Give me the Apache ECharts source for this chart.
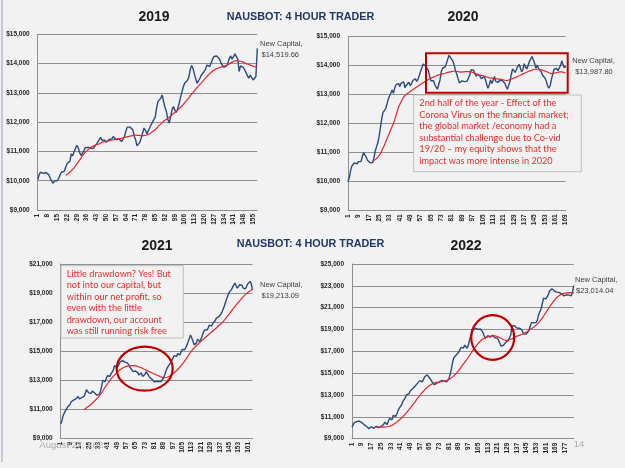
<!DOCTYPE html>
<html><head><meta charset="utf-8">
<script src="https://cdn.jsdelivr.net/npm/echarts@6/dist/echarts.min.js"></script>
<style>html,body{margin:0;padding:0;background:#f2f2f2}#c{width:625px;height:468px}</style>
</head><body><div id="c"></div><script>
// ---- 2019 ----
const blue2019 = [10040,10200,10290,10260,10250,10240,10280,10300,10200,10080,
9990,9910,9990,9940,10000,10080,10200,10290,10240,10320,
10460,10580,10520,10660,10920,10850,10980,11100,11210,11120,
10960,10860,10920,11020,11130,11170,11140,11190,11110,11170,
11110,11180,11250,11290,11400,11480,11380,11340,11380,11310,
11360,11410,11360,11430,11510,11570,11400,11350,11440,11380,
11340,11400,11510,11680,11830,11800,11830,11850,11740,11530,
11400,11190,11150,11310,11460,11630,11800,11720,11600,11650,
11800,11910,11990,11970,12170,12480,12710,12760,12820,12930,
12710,12510,12360,12100,11970,12170,12420,12530,12420,12330,
12440,12620,12820,13010,13190,13330,13390,13420,13530,13780,
13940,13840,13650,13470,13330,13360,13500,13610,13670,13730,
13810,13950,13990,13900,14030,14150,14240,14300,14260,14220,
14150,14030,13950,13870,13840,13920,14030,14180,14260,14150,
14240,14330,14350,14150,13730,13920,13970,13870,13780,13690,
13580,13500,13610,13560,13440,13470,13560,14519.66];
const red2019 = [null,null,null,null,null,null,null,null,null,null,
null,null,null,null,null,null,null,null,null,null,
10190,10220,10250,10290,10340,10380,10440,10510,10570,10640,
10700,10770,10860,10920,10970,11010,11060,11110,11140,11160,
11190,11210,11230,11250,11260,11290,11310,11320,11340,11350,
11350,11360,11380,11390,11400,11420,11420,11430,11440,11450,
11450,11460,11480,11490,11500,11510,11520,11530,11540,11550,
11560,11560,11550,11550,11540,11530,11540,11550,11560,11580,
11600,11640,11670,11700,11740,11790,11840,11890,11940,11990,
12030,12070,12100,12130,12170,12210,12250,12290,12330,12370,
12410,12460,12500,12550,12600,12650,12720,12780,12830,12900,
12960,13010,13070,13130,13190,13240,13290,13340,13400,13450,
13510,13560,13610,13660,13700,13740,13780,13810,13830,13850,
13870,13880,13890,13910,13920,13940,13960,13990,14020,14050,
14070,14090,14100,14100,14090,14080,14060,14050,14030,14000,
13990,13970,13950,13930,13910,13890,13870,13900];

// ---- 2020 ----
const blue2020 = [9980,10130,10380,10530,10510,10640,10580,10600,10680,10710,
10680,10850,10990,10930,10840,10730,10670,10640,10620,10650,
10800,11040,11190,11330,11550,11850,12150,12380,12420,12500,
12650,12830,12940,13040,13150,13040,13210,13330,13270,13380,
13270,13390,13330,13430,13230,13320,13270,13420,13300,13370,
13480,13420,13540,13450,13520,13650,13790,13920,14050,14020,
13970,13940,13830,13630,13470,13420,13470,13340,13250,13180,
13150,13500,13790,13900,13850,13960,14080,14220,14350,14320,
14210,14140,14000,13820,13690,13540,13400,13450,13470,13450,
13440,13450,13460,13480,13680,13850,13890,13840,13700,13630,
13700,13760,13620,13540,13530,13620,13520,13360,13210,13330,
13500,13380,13480,13620,13450,13510,13420,13490,13550,13480,
13490,13390,13270,13180,13240,13450,13680,13880,13910,13760,
13760,13970,14040,13920,13780,13860,14060,13950,13880,14010,
14140,14200,14310,14260,14080,13900,14020,13900,13950,13790,
13670,13620,13570,13460,13300,13220,13300,13520,13700,13870,
13880,13900,13820,13860,14000,14160,14020,13920,13987.80];
const red2020 = [null,null,null,null,null,null,null,null,null,null,
null,null,null,null,null,null,null,null,null,10680,
10720,10750,10790,10830,10870,10950,11050,11150,11240,11350,
11460,11570,11680,11780,11890,11990,12120,12270,12420,12560,
12660,12750,12840,12920,12970,13010,13050,13070,13110,13140,
13170,13200,13230,13260,13290,13320,13350,13380,13410,13440,
13460,13490,13510,13540,13560,13580,13600,13620,13640,13660,
13670,13690,13700,13710,13720,13730,13740,13760,13770,13780,
13790,13800,13800,13800,13790,13790,13780,13770,13770,13780,
13780,13790,13790,13790,13790,13780,13770,13750,13730,13710,
13700,13680,13670,13660,13640,13630,13620,13600,13590,13570,
13560,13560,13550,13550,13540,13540,13530,13530,13520,13510,
13500,13490,13480,13480,13490,13510,13530,13550,13560,13580,
13600,13620,13640,13660,13680,13710,13730,13750,13770,13790,
13800,13820,13840,13860,13870,13870,13870,13870,13870,13860,
13840,13820,13810,13790,13770,13750,13730,13720,13720,13730,
13740,13750,13760,13780,13790,13780,13760,13750,13740];

// ---- 2021 ----
const blue2021 = [9960,10180,10530,10660,10870,10960,11150,11230,11310,11500,
11590,11610,11520,11700,11800,11860,11690,11720,11790,11720,
11870,12080,12330,12250,12110,11980,12080,12230,12300,12110,
12030,11950,11870,12020,12230,12560,12980,12920,12880,13120,
13290,13330,13250,13420,13530,13680,14000,13890,13840,13940,
14100,14270,14400,14340,14290,14230,14280,14180,14070,13940,
13790,13720,13580,13500,13620,13700,13490,13340,13260,13480,
13250,13140,13380,13570,13450,13330,13190,13120,13060,12950,
12880,12880,12900,12870,12900,12950,12900,13030,13150,13360,
13620,13820,13960,14080,14200,14320,14510,14680,14720,14630,
14820,14820,14730,14940,15110,15160,15090,15250,15420,15540,
15870,16100,16110,15700,15420,15310,15550,15820,15790,15650,
15820,16050,16270,16460,16400,16440,16580,16780,16750,16710,
16900,16990,17080,17260,17340,17350,17270,17540,17700,17820,
18120,18380,18630,18830,19040,19150,19230,19400,19550,19690,
19500,19330,19260,19570,19680,19540,19340,19250,19290,19400,
19640,19760,19800,19620,19213.09];
const red2021 = [null,null,null,null,null,null,null,null,null,null,
null,null,null,null,null,null,null,null,null,null,
10950,11010,11080,11130,11190,11260,11330,11410,11480,11570,
11640,11730,11800,11910,12010,12130,12240,12380,12490,12630,
12730,12860,12950,13070,13150,13250,13320,13420,13500,13580,
13650,13720,13790,13830,13870,13910,13930,13960,13975,13990,
14000,14000,14000,13990,13980,13960,13930,13900,13870,13840,
13800,13760,13720,13690,13650,13610,13570,13530,13490,13450,
13410,13380,13340,13310,13270,13240,13200,13180,13170,13160,
13170,13190,13210,13260,13310,13360,13440,13500,13590,13640,
13730,13810,13900,13990,14090,14190,14300,14420,14550,14670,
14790,14920,15030,15120,15200,15290,15370,15450,15520,15600,
15680,15750,15820,15890,15960,16030,16100,16170,16240,16310,
16380,16450,16520,16590,16660,16740,16800,16880,16950,17040,
17120,17230,17330,17440,17540,17650,17750,17870,17960,18080,
18160,18270,18360,18460,18550,18650,18730,18820,18880,18970,
19030,19110,19150,19200,19250];

// ---- 2022 ----
const blue2022 = [10060,10280,10470,10580,10580,10540,10610,10620,10480,10380,
10290,10200,10110,10020,9920,9850,10090,10080,9950,10070,
10130,10040,10010,10120,10110,10050,10290,10510,10390,10290,
10590,10870,10830,10730,11130,11110,11050,11250,11570,11800,
11950,12110,12420,12600,12760,13020,13080,13120,13370,13470,
13580,13700,13810,13920,14070,14230,14320,14180,14200,14430,
14670,14800,14850,14720,14560,14390,14220,14040,13940,13960,
14090,14210,14200,14220,14330,14270,14300,14320,14210,14290,
14500,14900,15400,15980,16420,16550,16660,16780,16920,17140,
17360,17420,17300,17570,17400,17280,17550,18060,18440,18750,
18980,19080,19130,19080,19010,19040,19050,18920,18740,18450,
18200,18380,18440,18410,18300,18360,18480,18450,18240,18340,
18200,18000,17740,17480,17420,17560,17730,17850,17930,17990,
18060,18500,19330,19440,19350,19240,19140,19100,19120,19100,
18990,18770,18580,18460,18590,18740,18930,19280,19630,19700,
19620,19470,19650,19900,20360,20640,20880,21360,21880,22020,
21800,21650,22190,22530,22700,22730,22580,22520,22480,22430,
22360,22380,22400,22260,22160,22080,22050,22180,22160,22150,
22220,22080,22480,23014.04];
const red2022 = [null,null,null,null,null,null,null,null,null,null,
null,null,null,null,null,null,null,null,null,null,
10060,10060,10060,10060,10060,10060,10060,10070,10080,10100,
10120,10140,10170,10220,10290,10360,10440,10520,10620,10710,
10800,10900,11020,11130,11260,11390,11530,11660,11800,11940,
12100,12240,12380,12540,12690,12830,12970,13120,13240,13370,
13480,13590,13700,13790,13870,13940,14010,14070,14110,14140,
14170,14180,14190,14200,14230,14250,14270,14300,14320,14370,
14420,14490,14570,14660,14750,14840,14990,15100,15230,15400,
15550,15710,15860,16010,16160,16300,16460,16640,16800,16980,
17130,17280,17440,17570,17700,17830,17950,18070,18150,18200,
18250,18290,18330,18360,18380,18410,18430,18440,18420,18390,
18360,18300,18240,18180,18130,18080,18040,18010,17990,18000,
18060,18100,18150,18230,18280,18330,18380,18420,18460,18480,
18540,18590,18650,18710,18770,18840,18920,19000,19080,19160,
19240,19330,19420,19520,19630,19740,19900,20060,20210,20400,
20580,20730,20890,21070,21230,21400,21550,21690,21830,21940,
22040,22120,22190,22240,22280,22310,22330,22350,22360,22370,
22370,22360,22350,22350];

// tick labels (period numbers) and axis ranges
const cat2019 = blue2019.map((_, i) => String(i + 1));
const cat2020 = blue2020.map((_, i) => String(i + 1));
const cat2021 = blue2021.map((_, i) => String(i + 1));
const cat2022 = blue2022.map((_, i) => String(i + 1));
const yRange2019 = [9000, 15000, 1000];
const yRange2020 = [9000, 15000, 1000];
const yRange2021 = [9000, 21000, 2000];
const yRange2022 = [9000, 25000, 2000];
const titles = ['2019', '2020', '2021', '2022'];
const capitalLabels = ['$14,519.66', '$13,987.80', '$19,213.09', '$23,014.04'];
const note2020 = ['2nd half of the year - Effect of the', 'Corona Virus on the financial market;', 'the global market /economy had a', 'substantial challenge due to Co-vid', '19/20 \u2013 my equity shows that the', 'impact was more intense in 2020'];
const note2021 = ['Little drawdown? Yes! But', 'not into our capital, but', 'within our net profit, so', 'even with the little', 'drawdown, our account', 'was still running risk free'];

const BLUE = '#2b4a7f', RED = '#e3262b', GRIDC = '#8f8f8f';
const SMALLF = '"Liberation Sans", Arial, sans-serif';
const fmt = v => '$' + v.toLocaleString('en-US');

const grids = [
  {left: 37.7, top: 34.3, width: 219.6, height: 175.7},
  {left: 348, top: 36.5, width: 217.7, height: 173.8},
  {left: 60.7, top: 264, width: 191.8, height: 174},
  {left: 352, top: 264, width: 221.8, height: 174.7}
].map(g => Object.assign({outerBoundsMode: 'none', containLabel: false}, g));

const cats = [cat2019, cat2020, cat2021, cat2022];
const ranges = [yRange2019, yRange2020, yRange2021, yRange2022];
const intervals = [6, 7, 7, 7];
const blues = [blue2019, blue2020, blue2021, blue2022];
const reds = [red2019, red2020, red2021, red2022];

const xAxis = cats.map((c, i) => ({
  type: 'category', gridIndex: i, data: c, boundaryGap: false,
  axisLine: {lineStyle: {color: GRIDC, width: 1}},
  axisTick: {show: false},
  axisLabel: {interval: intervals[i], rotate: 90, margin: 4, fontSize: 6.5, fontWeight: 'bold', color: '#262626', fontFamily: SMALLF},
  splitLine: {show: false}
}));
const yAxis = ranges.map((r, i) => ({
  type: 'value', gridIndex: i, min: r[0], max: r[1], interval: r[2],
  axisLine: {show: true, lineStyle: {color: GRIDC, width: 1}},
  axisTick: {show: false},
  axisLabel: {formatter: fmt, margin: 8, fontSize: 6.5, fontWeight: 'bold', color: '#262626', fontFamily: SMALLF},
  splitLine: {show: true, lineStyle: {color: GRIDC, width: 1}}
}));
const series = [];
blues.forEach((b, i) => {
  series.push({type: 'line', xAxisIndex: i, yAxisIndex: i, data: b, showSymbol: false, symbol: 'none',
    lineStyle: {color: BLUE, width: 1.4}, z: 3});
  series.push({type: 'line', xAxisIndex: i, yAxisIndex: i, data: reds[i], showSymbol: false, symbol: 'none',
    connectNulls: false, lineStyle: {color: RED, width: 1.2}, z: 4});
});

function txt(x, y, text, font, fill, align, valign, extra) {
  return Object.assign({type: 'text', x: x, y: y, z: 100,
    style: {text: text, font: font, fill: fill, align: align || 'left', verticalAlign: valign || 'middle'}}, extra || {});
}
const TITLEF = 'bold 14px "Liberation Sans", Arial, sans-serif';
const NAUSF = 'bold 10.8px "Liberation Sans", Arial, sans-serif';
const CAPF = '7.5px "Liberation Sans", Arial, sans-serif';
const NOTEF = '9.2px Lato, "Open Sans", sans-serif';
const NOTEC = '#e0312f';

const graphic = [
  txt(154, 17, titles[0], TITLEF, '#1a1a1a', 'center'),
  txt(463, 17, titles[1], TITLEF, '#1a1a1a', 'center'),
  txt(157, 246, titles[2], TITLEF, '#1a1a1a', 'center'),
  txt(466, 246, titles[3], TITLEF, '#1a1a1a', 'center'),
  txt(300.5, 17.5, 'NAUSBOT: 4 HOUR TRADER', NAUSF, '#203864', 'center'),
  txt(310.5, 244.5, 'NAUSBOT: 4 HOUR TRADER', NAUSF, '#203864', 'center'),
  txt(260, 43.5, 'New Capital,', CAPF, '#404040'),
  txt(261.5, 54.5, capitalLabels[0], CAPF, '#404040'),
  txt(593.5, 61, 'New Capital,', CAPF, '#404040', 'center'),
  txt(594, 71.5, capitalLabels[1], CAPF, '#404040', 'center'),
  txt(260, 285, 'New Capital,', CAPF, '#404040'),
  txt(261.5, 296, capitalLabels[2], CAPF, '#404040'),
  txt(575, 279.5, 'New Capital,', CAPF, '#404040'),
  txt(576, 291, capitalLabels[3], CAPF, '#404040'),
  {type: 'rect', z: 90, shape: {x: 413.7, y: 95, width: 167.6, height: 76.7}, style: {fill: '#f2f2f2', stroke: '#bfbfbf', lineWidth: 1}},
  {type: 'rect', z: 90, shape: {x: 61, y: 265.7, width: 122.3, height: 72.3}, style: {fill: '#f2f2f2', stroke: '#bfbfbf', lineWidth: 1}},
  {type: 'rect', z: 95, shape: {x: 426, y: 53.3, width: 141.7, height: 39.4}, style: {fill: 'none', stroke: '#c00000', lineWidth: 2}},
  {type: 'ellipse', z: 95, shape: {cx: 144.7, cy: 368.7, rx: 28, ry: 22}, style: {fill: 'none', stroke: '#c00000', lineWidth: 2.2}},
  {type: 'ellipse', z: 95, shape: {cx: 492.7, cy: 337.5, rx: 21.5, ry: 22.3}, style: {fill: 'none', stroke: '#c00000', lineWidth: 2.2}},
  txt(39.3, 445, 'August 27, 2023', '9.5px "Liberation Sans", Arial, sans-serif', '#ababab'),
  txt(573.7, 444, '14', '9.5px "Liberation Sans", Arial, sans-serif', '#ababab'),
  {type: 'line', z: 100, shape: {x1: 2, y1: 0, x2: 2, y2: 462}, style: {stroke: '#8ea2bd', lineWidth: 1}}
];
note2020.forEach((t, k) => graphic.push(txt(419.3, 103.3 + k * 11.5, t, NOTEF, NOTEC)));
note2021.forEach((t, k) => graphic.push(txt(66.7, 274 + k * 11.5, t, NOTEF, NOTEC)));

const chart = echarts.init(document.getElementById('c'), null, {renderer: 'canvas'});
chart.setOption({
  backgroundColor: '#f2f2f2',
  animation: false,
  grid: grids, xAxis: xAxis, yAxis: yAxis, series: series, graphic: graphic
});
</script></body></html>
